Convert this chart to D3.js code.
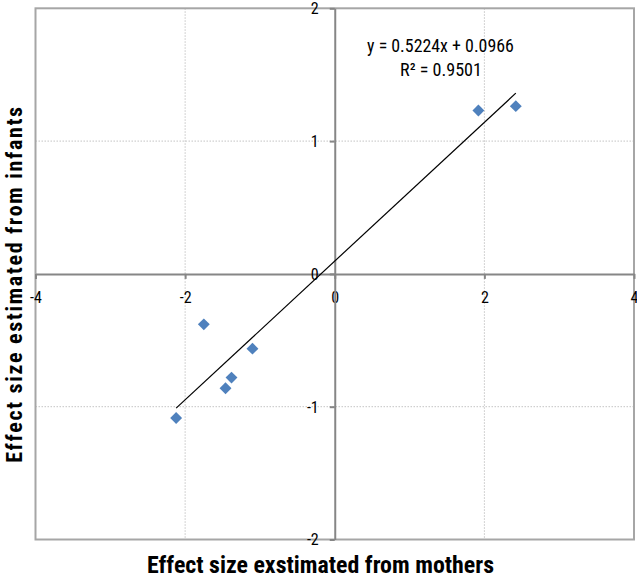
<!DOCTYPE html>
<html>
<head>
<meta charset="utf-8">
<script src="https://cdn.jsdelivr.net/npm/d3@7"></script>
<style>
  html, body { margin: 0; padding: 0; background: #fff; }
  svg { display: block; }
  text { font-family: "Liberation Sans Narrow", "Roboto Condensed", "Liberation Sans", Arial, sans-serif; fill: #000; }
</style>
</head>
<body>
<svg id="chart" width="637" height="579"></svg>
<script>
// Effect sizes: mothers (x) vs infants (y)
const mothers = [1.92, 2.42, -1.75, -1.10, -1.38, -1.46, -2.12];
const infants = [1.23, 1.263, -0.38, -0.563, -0.781, -0.861, -1.085];

// Linear trendline
const slope = 0.5224;
const intercept = 0.0966;
const rSquared = 0.9501;

const xTicks = [-4, -2, 0, 2, 4];
const yTicks = [-2, -1, 0, 1, 2];
const xTickLabels = ["-4", "-2", "0", "2", "4"];
const yTickLabels = ["-2", "-1", "0", "1", "2"];

const xTitle = "Effect size exstimated from mothers";
const yTitle = "Effect size estimated from infants";

const svg = d3.select("#chart");

const plot = { left: 35.5, right: 634, top: 8.3, bottom: 539.5 };

const x = d3.scaleLinear().domain([-4, 4]).range([plot.left, plot.right]);
const y = d3.scaleLinear().domain([-2, 2]).range([plot.bottom, plot.top]);

// Dotted gridlines
const grid = svg.append("g").attr("stroke", "#c4c4c4").attr("stroke-width", 1)
  .attr("stroke-dasharray", "1.5,1.5");
grid.selectAll("line.vx").data(xTicks.filter(d => d !== 0 && Math.abs(d) !== 4))
  .join("line")
  .attr("x1", d => x(d)).attr("x2", d => x(d))
  .attr("y1", plot.top).attr("y2", plot.bottom);
grid.selectAll("line.hy").data(yTicks.filter(d => d !== 0 && Math.abs(d) !== 2))
  .join("line")
  .attr("class", "hy")
  .attr("y1", d => y(d)).attr("y2", d => y(d))
  .attr("x1", plot.left).attr("x2", plot.right);

// Plot border
svg.append("rect")
  .attr("x", plot.left).attr("y", plot.top)
  .attr("width", plot.right - plot.left).attr("height", plot.bottom - plot.top)
  .attr("fill", "none").attr("stroke", "#a6a6a6").attr("stroke-width", 2);

// Axes crossing at the origin
const xAxis = d3.axisBottom(x).tickValues(xTicks)
  .tickFormat((d, i) => xTickLabels[i]).tickSize(5).tickSizeOuter(0);
const yAxis = d3.axisLeft(y).tickValues(yTicks)
  .tickFormat((d, i) => yTickLabels[i]).tickSize(5).tickSizeOuter(0);

const gx = svg.append("g").attr("transform", `translate(0,${y(0)})`).call(xAxis);
const gy = svg.append("g").attr("transform", `translate(${x(0)},0)`).call(yAxis);

[gx, gy].forEach(g => {
  g.attr("font-family", null).attr("font-size", null);
  g.select(".domain").attr("stroke", "#868686").attr("stroke-width", 2);
  g.selectAll(".tick line").attr("stroke", "#868686").attr("stroke-width", 2);
  g.selectAll(".tick text").attr("font-size", 16).style("fill", "#000");
});
gx.selectAll(".tick text").attr("y", 18).attr("dy", "0.71em");
gy.selectAll(".tick text").attr("x", -16).attr("dy", "0.34em");

// Trendline across the data range
const xExtent = d3.extent(mothers);
svg.append("line")
  .attr("x1", x(xExtent[0])).attr("y1", y(slope * xExtent[0] + intercept))
  .attr("x2", x(xExtent[1])).attr("y2", y(slope * xExtent[1] + intercept))
  .attr("stroke", "#000").attr("stroke-width", 1.2);

// Diamond markers
const diamond = d3.symbol().type(d3.symbolDiamond2).size(90);
svg.append("g").selectAll("path")
  .data(mothers.map((m, i) => [m, infants[i]]))
  .join("path")
  .attr("d", diamond)
  .attr("transform", d => `translate(${x(d[0])},${y(d[1])})`)
  .attr("fill", "#4f81bd");

// Fit a text element's width by adjusting its font size
function fit(sel, target) {
  const node = sel.node();
  const fs = parseFloat(sel.attr("font-size"));
  const w = node.getComputedTextLength();
  if (w > 0) sel.attr("font-size", fs * target / w);
  return sel;
}

// Trendline equation
const eq = svg.append("text")
  .attr("x", 440.5).attr("y", 52).attr("text-anchor", "middle")
  .attr("font-size", 15)
  .text(`y = ${slope.toFixed(4)}x + ${intercept.toFixed(4)}`);
fit(eq, 147);
const r2 = svg.append("text")
  .attr("x", 441).attr("y", 76).attr("text-anchor", "middle")
  .attr("font-size", 15)
  .text(`R² = ${rSquared.toFixed(4)}`);
fit(r2, 82);

// Axis titles
const tx = svg.append("text")
  .attr("x", 320.5).attr("y", 573).attr("text-anchor", "middle")
  .attr("font-size", 20).attr("font-weight", "bold")
  .text(xTitle);
fit(tx, 347);

// Rotated title: cap the glyph size so it stays inside the left edge,
// then open up the letter spacing to span the full length.
const ty = svg.append("text")
  .attr("transform", "translate(22,284) rotate(-90)")
  .attr("text-anchor", "middle")
  .attr("font-size", 22).attr("font-weight", "bold")
  .text(yTitle);
const tyW = ty.node().getComputedTextLength();
if (tyW < 356) {
  ty.attr("letter-spacing", ((356 - tyW) / (yTitle.length - 1)).toFixed(2));
} else {
  fit(ty, 356);
}
</script>
</body>
</html>
